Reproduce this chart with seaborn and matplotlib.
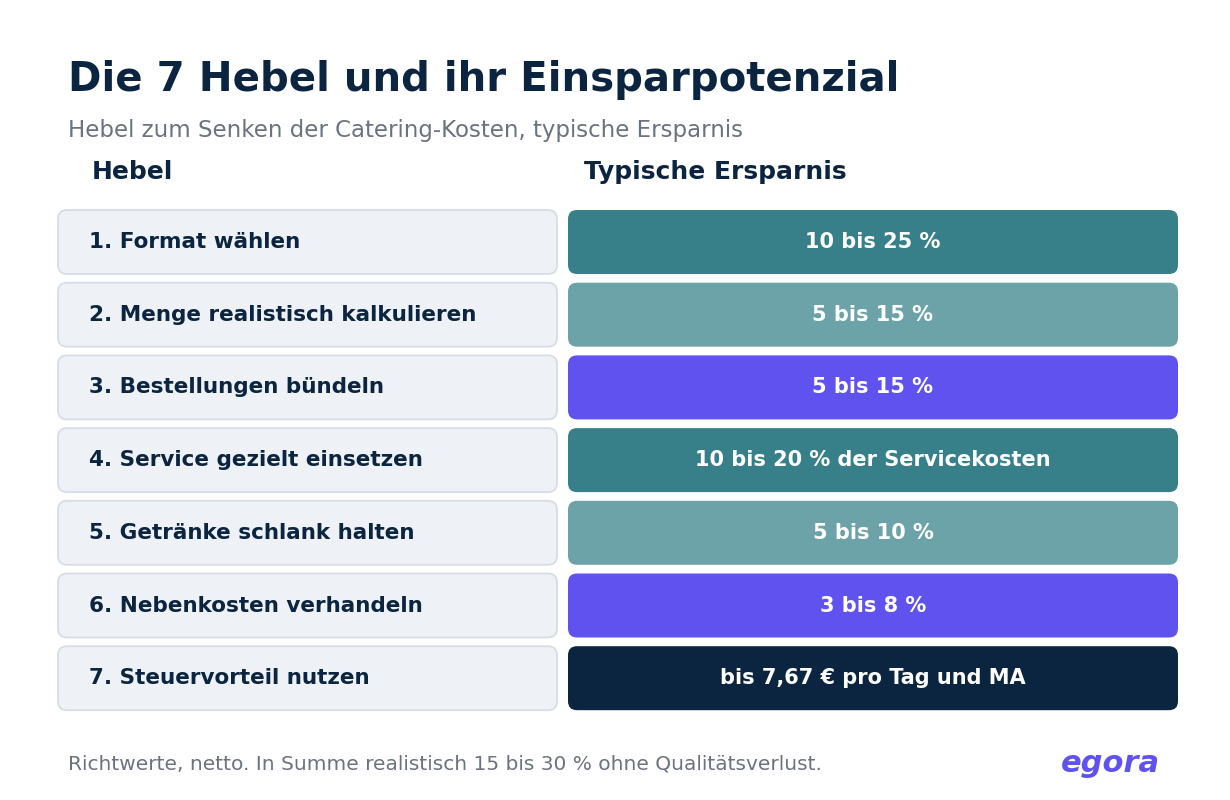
import matplotlib
matplotlib.use("Agg")
import matplotlib.pyplot as plt
from matplotlib.patches import FancyBboxPatch
import seaborn as sns

# ── DATA ───────────────────────────────────────────────────────────
hebel = [
    "1. Format wählen",
    "2. Menge realistisch kalkulieren",
    "3. Bestellungen bündeln",
    "4. Service gezielt einsetzen",
    "5. Getränke schlank halten",
    "6. Nebenkosten verhandeln",
    "7. Steuervorteil nutzen",
]
ersparnis = [
    "10 bis 25 %",
    "5 bis 15 %",
    "5 bis 15 %",
    "10 bis 20 % der Servicekosten",
    "5 bis 10 %",
    "3 bis 8 %",
    "bis 7,67 € pro Tag und MA",
]
kategorie = ["hoch", "mittel", "bündeln", "hoch", "mittel", "bündeln", "steuer"]

palette = {
    "hoch": "#37808a",
    "mittel": "#6ca3a8",
    "bündeln": "#5f52ef",
    "steuer": "#0b2540",
}

NAVY = "#0b2540"
GRAY = "#6b7280"

# ── FIGURE ─────────────────────────────────────────────────────────
sns.set_theme(style="white")
plt.rcParams["font.family"] = ["DejaVu Sans"]

fig = plt.figure(figsize=(12.3, 8), dpi=100)
ax = fig.add_axes([0, 0, 1, 1])
ax.set_xlim(0, 1230)
ax.set_ylim(800, 0)
ax.axis("off")

top, pitch, h = 210, 72.7, 64
lx, lw = 58, 499
rx, rw = 568, 610

for i, (name, val, cat) in enumerate(zip(hebel, ersparnis, kategorie)):
    y = top + i * pitch
    ax.add_patch(FancyBboxPatch((lx, y), lw, h,
                                boxstyle="round,pad=0,rounding_size=9",
                                facecolor="#eef1f6", edgecolor="#d6dde6",
                                linewidth=1.3))
    ax.add_patch(FancyBboxPatch((rx, y), rw, h,
                                boxstyle="round,pad=0,rounding_size=9",
                                facecolor=palette[cat], edgecolor="none"))
    ax.text(89, y + h / 2, name, ha="left", va="center",
            fontsize=15.45, fontweight="bold", color=NAVY)
    ax.text(rx + rw / 2, y + h / 2, val, ha="center", va="center",
            fontsize=15, fontweight="bold", color="white")

ax.text(68, 80, "Die 7 Hebel und ihr Einsparpotenzial", ha="left", va="center",
        fontsize=29, fontweight="bold", color=NAVY)
ax.text(68, 131, "Hebel zum Senken der Catering-Kosten, typische Ersparnis",
        ha="left", va="center", fontsize=16.5, color=GRAY)
ax.text(92, 172, "Hebel", ha="left", va="center",
        fontsize=18, fontweight="bold", color=NAVY)
ax.text(584, 172, "Typische Ersparnis", ha="left", va="center",
        fontsize=18, fontweight="bold", color=NAVY)

ax.text(68, 764, "Richtwerte, netto. In Summe realistisch 15 bis 30 % ohne Qualitätsverlust.",
        ha="left", va="center", fontsize=14.5, color=GRAY)
ax.text(1160, 763, "egora", ha="right", va="center", fontsize=22,
        fontweight="bold", fontstyle="italic", color="#5f52ef")

fig.savefig("out.png", dpi=100, facecolor="white")
